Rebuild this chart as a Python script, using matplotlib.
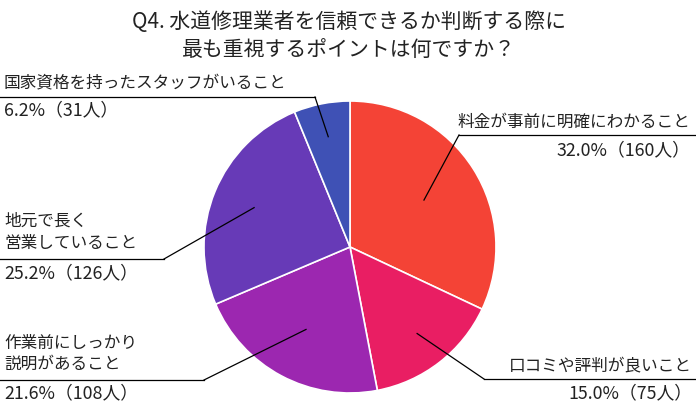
import numpy as np
import matplotlib
matplotlib.use("Agg")
import matplotlib.pyplot as plt

plt.rcParams['font.family'] = ['Noto Sans CJK JP', 'DejaVu Sans']

# data
title = "Q4. 水道修理業者を信頼できるか判断する際に\n最も重視するポイントは何ですか？"
categories = ["料金が事前に明確にわかること", "口コミや評判が良いこと",
              "作業前にしっかり\n説明があること", "地元で長く\n営業していること",
              "国家資格を持ったスタッフがいること"]
percents = [32.0, 15.0, 21.6, 25.2, 6.2]
counts = [160, 75, 108, 126, 31]
colors = ["#F44336", "#E91E63", "#9C27B0", "#673AB7", "#3F51B5"]

W, H = 696, 415
fig = plt.figure(figsize=(W / 100, H / 100), dpi=100)

cx, cy, R = 350, 247, 146
# pie on its own axes with normal y so it runs clockwise
pax = fig.add_axes([(cx - R) / W, (H - cy - R) / H, 2 * R / W, 2 * R / H])
wedges, _ = pax.pie(percents, colors=colors, startangle=90, counterclock=False,
                    wedgeprops=dict(edgecolor='white', linewidth=1.2))
pax.set_xlim(-1, 1)
pax.set_ylim(-1, 1)
pax.set_aspect('auto')

# overlay axes in pixel coordinates for labels and leaders
ax = fig.add_axes([0, 0, 1, 1], zorder=5)
ax.patch.set_alpha(0)
ax.set_xlim(0, W)
ax.set_ylim(H, 0)
ax.axis('off')

# label layout: (text x, align, text y lines, underline y, underline x0, x1, percent y, leader radius)
layout = [
    (690, 'right', [122], 135, 459, 696, 150, 0.60),
    (692, 'right', [366], 379, 484, 696, 393, 0.75),
    (4, 'left', [343, 364], 380, 0, 204, 393, 0.64),
    (4, 'left', [221, 243], 259, 0, 164, 273, 0.71),
    (4, 'left', [83], 97, 0, 315, 110, 0.77),
]

fs = 12
tc = "#222222"
for i, (w, lay) in enumerate(zip(wedges, layout)):
    tx, ha, ys, uy, ux0, ux1, py, rf = lay
    for line, y in zip(categories[i].split("\n"), ys):
        ax.text(tx, y, line, ha=ha, va='center', fontsize=fs, color=tc)
    ax.text(tx, py, f"{percents[i]:.1f}%（{counts[i]}人）", ha=ha, va='center',
            fontsize=12.8, color=tc)
    ax.plot([ux0, ux1], [uy, uy], color='black', lw=0.9)
    mid = np.deg2rad((w.theta1 + w.theta2) / 2)
    sx = cx + rf * R * np.cos(mid)
    sy = cy - rf * R * np.sin(mid)
    ex = ux1 if ha == 'left' else ux0
    ax.plot([sx, ex], [sy, uy], color='black', lw=0.9)

ax.text(349, 36, title, ha='center', va='center', fontsize=15, color=tc,
        linespacing=1.3)

fig.savefig("out.png", dpi=100)
